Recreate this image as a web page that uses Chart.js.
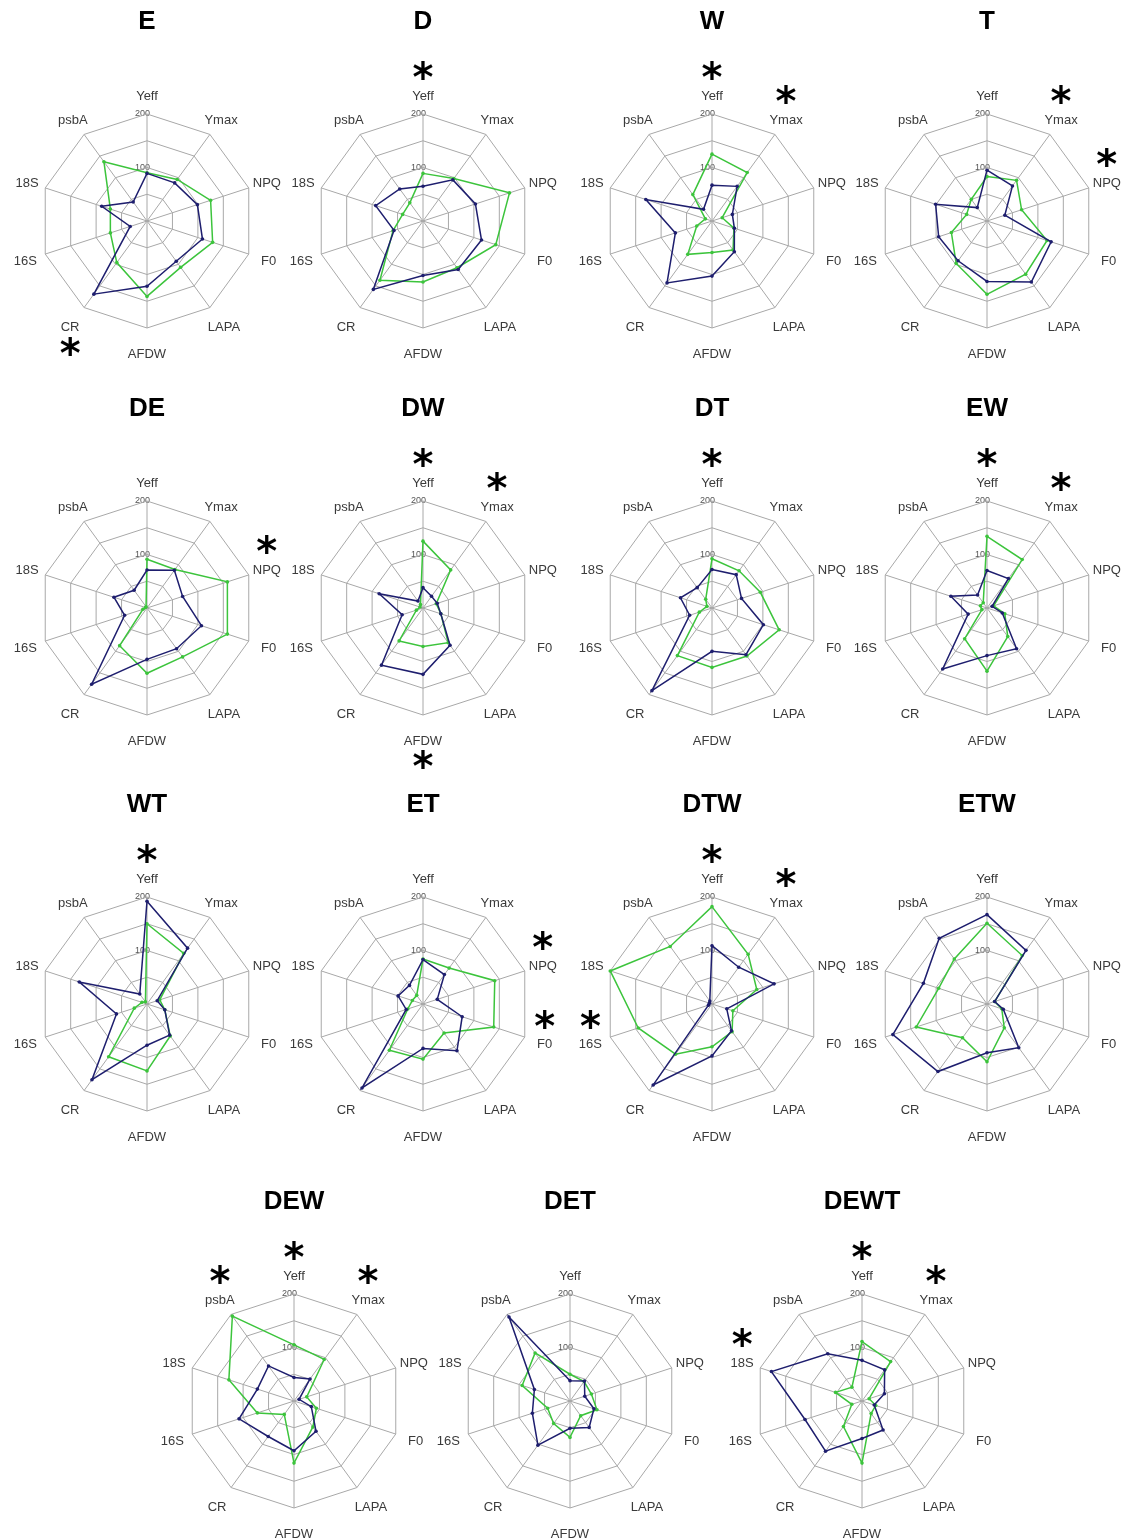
<!DOCTYPE html>
<html>
<head>
<meta charset="utf-8">
<script src="https://cdn.jsdelivr.net/npm/chart.js@4.4.1/dist/chart.umd.min.js"></script>
<style>
  html, body { margin: 0; padding: 0; background: #fff; }
  body { position: relative; width: 1130px; height: 1539px; overflow: hidden; }
  canvas { position: absolute; }
</style>
</head>
<body>
<script>
// spoke order, clockwise from the top
const axes = ['Yeff', 'Ymax', 'NPQ', 'F0', 'LAPA', 'AFDW', 'CR', '16S', '18S', 'psbA'];
const tickLabels = [100, 200];

// values per panel (% of control), same order as axes
const navyE   = [89, 88, 99, 109, 93, 122, 169, 33, 89, 44];
const greenE  = [90, 96, 125, 129, 107, 141, 96, 72, 72, 137];
const navyD   = [65, 95, 103, 115, 112, 102, 158, 57, 93, 74];
const greenD  = [89, 98, 170, 143, 108, 114, 137, 59, 40, 42];
const navyW   = [67, 80, 40, 44, 71, 103, 143, 72, 130, 27];
const greenW  = [125, 112, 20, 43, 67, 59, 77, 30, 13, 61];
const navyT   = [95, 81, 35, 126, 141, 113, 92, 95, 101, 31];
const greenT  = [83, 94, 68, 118, 123, 137, 98, 70, 40, 50];

const navyDE  = [71, 87, 70, 107, 94, 96, 176, 44, 65, 41];
const greenDE = [91, 89, 158, 158, 113, 122, 87, 8, 3, 3];
const navyDW  = [38, 27, 28, 35, 86, 124, 132, 41, 86, 16];
const greenDW = [125, 88, 26, 35, 80, 72, 76, 13, 6, 8];
const navyDT  = [72, 77, 58, 101, 108, 81, 191, 44, 62, 47];
const greenDT = [92, 86, 95, 132, 111, 111, 110, 25, 10, 20];
const navyEW  = [70, 68, 10, 30, 94, 89, 141, 37, 71, 30];
const greenEW = [134, 112, 13, 35, 66, 118, 71, 10, 13, 12];

const navyWT  = [192, 129, 20, 35, 72, 77, 175, 60, 133, 23];
const greenWT = [150, 117, 25, 35, 74, 125, 122, 25, 10, 5];
const navyET  = [83, 68, 28, 77, 108, 83, 194, 33, 49, 43];
const greenET = [84, 83, 141, 139, 67, 103, 107, 30, 21, 20];
const navyDTW  = [109, 85, 122, 29, 62, 97, 187, 7, 5, 7];
const greenDTW = [182, 115, 88, 41, 64, 80, 116, 145, 200, 133];
const navyETW  = [167, 124, 15, 32, 101, 91, 156, 185, 125, 152];
const greenETW = [151, 112, 15, 29, 55, 108, 78, 139, 95, 104];

const navyDEW  = [44, 51, 10, 34, 70, 93, 82, 108, 72, 81];
const greenDEW = [105, 96, 25, 44, 60, 116, 31, 72, 128, 196];
const navyDET  = [38, 46, 29, 47, 61, 51, 102, 74, 70, 194];
const greenDET = [50, 45, 42, 53, 34, 68, 52, 44, 94, 111];
const navyDEWT  = [76, 72, 44, 24, 67, 70, 116, 112, 178, 109];
const greenDEWT = [111, 91, 14, 27, 29, 116, 59, 20, 52, 32];

// significant variables
const starsE = ['CR'], starsD = ['Yeff'], starsW = ['Yeff', 'Ymax'], starsT = ['Ymax', 'NPQ'];
const starsDE = ['NPQ'], starsDW = ['Yeff', 'Ymax', 'AFDW'], starsDT = ['Yeff'], starsEW = ['Yeff', 'Ymax'];
const starsWT = ['Yeff'], starsET = ['NPQ', 'F0'], starsDTW = ['Yeff', 'Ymax', '16S'], starsETW = [];
const starsDEW = ['psbA', 'Yeff', 'Ymax'], starsDET = [], starsDEWT = ['Yeff', 'Ymax', '18S'];

const panels = [
  ['E', navyE, greenE, starsE], ['D', navyD, greenD, starsD],
  ['W', navyW, greenW, starsW], ['T', navyT, greenT, starsT],
  ['DE', navyDE, greenDE, starsDE], ['DW', navyDW, greenDW, starsDW],
  ['DT', navyDT, greenDT, starsDT], ['EW', navyEW, greenEW, starsEW],
  ['WT', navyWT, greenWT, starsWT], ['ET', navyET, greenET, starsET],
  ['DTW', navyDTW, greenDTW, starsDTW], ['ETW', navyETW, greenETW, starsETW],
  ['DEW', navyDEW, greenDEW, starsDEW], ['DET', navyDET, greenDET, starsDET],
  ['DEWT', navyDEWT, greenDEWT, starsDEWT]
];

// page layout: centre of each web
const rowY = [221, 608, 1004, 1401];
const colX = [147, 423, 712, 987];
const lastRowX = [294, 570, 862];

const SIZE = 440, R = 107;
const NAVY = '#1e1e6e', GREEN = '#3cc43c', GRID = '#a8a8a8';
const FONT = '"Liberation Sans", Arial, sans-serif';

const decorations = {
  id: 'decorations',
  beforeDraw(chart) {
    const s = chart.scales.r, ctx = chart.ctx;
    ctx.save();
    ctx.font = '9px ' + FONT;
    ctx.fillStyle = '#555';
    ctx.textAlign = 'right';
    ctx.textBaseline = 'middle';
    tickLabels.forEach(v => {
      ctx.fillText(String(v), s.xCenter + 3, s.yCenter - s.getDistanceFromCenterForValue(v));
    });
    ctx.restore();
  },
  afterDraw(chart, args, opts) {
    const s = chart.scales.r, ctx = chart.ctx;
    // axis names sit a little further out on the lower half
    const labelPos = i => {
      const c = Math.cos(s.getIndexAngle(i));
      const p = s.getPointPosition(i, s.drawingArea + 19 + (c < 0 ? -6 * c : 0));
      return { x: p.x, y: p.y + 1 };
    };
    ctx.save();
    ctx.textAlign = 'center';
    ctx.textBaseline = 'middle';
    ctx.font = '13px ' + FONT;
    ctx.fillStyle = '#3a3a3a';
    axes.forEach((name, i) => {
      const p = labelPos(i);
      ctx.fillText(name, p.x, p.y);
    });

    ctx.font = 'bold 26px ' + FONT;
    ctx.fillStyle = '#000';
    ctx.fillText(opts.title, s.xCenter, s.yCenter - 199);

    ctx.font = 'bold 40px "DejaVu Sans", sans-serif';
    ctx.textBaseline = 'alphabetic';
    opts.stars.forEach(name => {
      const i = axes.indexOf(name);
      const p = labelPos(i);
      const below = Math.cos(s.getIndexAngle(i)) < -0.7;
      const y = below ? p.y + 19 : p.y - 25;
      ctx.fillText('*', p.x, y + 20);
    });
    ctx.restore();
  }
};

function series(values, color) {
  return {
    data: values,
    borderColor: color,
    backgroundColor: color,
    pointBackgroundColor: color,
    pointBorderColor: color,
    pointRadius: 1.8,
    pointBorderWidth: 0,
    borderWidth: 1.5,
    fill: false
  };
}

panels.forEach(([name, navy, green, stars], k) => {
  const row = Math.floor(k / 4);
  const cx = row < 3 ? colX[k % 4] : lastRowX[k - 12];
  const cy = rowY[row];
  const canvas = document.createElement('canvas');
  canvas.width = SIZE;
  canvas.height = SIZE;
  canvas.style.left = (cx - SIZE / 2) + 'px';
  canvas.style.top = (cy - SIZE / 2) + 'px';
  document.body.appendChild(canvas);

  new Chart(canvas, {
    type: 'radar',
    data: {
      labels: axes,
      datasets: [series(navy, NAVY), series(green, GREEN)]
    },
    options: {
      responsive: false,
      animation: false,
      events: [],
      layout: { padding: (SIZE - 2 * R) / 2 },
      elements: { line: { tension: 0 } },
      plugins: {
        legend: { display: false },
        tooltip: { enabled: false },
        decorations: { title: name, stars: stars }
      },
      scales: {
        r: {
          min: 0,
          max: 200,
          ticks: { display: false, stepSize: 50 },
          pointLabels: { display: false },
          grid: { color: GRID, lineWidth: 1 },
          angleLines: { color: GRID, lineWidth: 1 }
        }
      }
    },
    plugins: [decorations]
  });
});
</script>
</body>
</html>
